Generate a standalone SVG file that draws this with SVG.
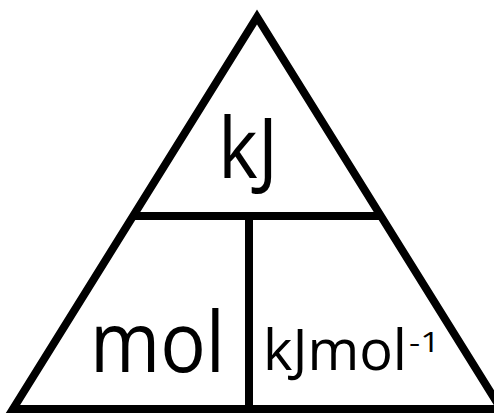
<svg xmlns="http://www.w3.org/2000/svg" width="494" height="414" viewBox="0 0 494 414">
<style>
.ln{stroke:#000;stroke-width:8;fill:none}
.t{font-family:"Open Sans","Noto Sans","Liberation Sans",sans-serif;fill:#000}
</style>
<rect width="494" height="414" fill="#fff"/>
<g id="connectors">
<polygon class="ln" points="257,17 13,409 501,409" stroke-linejoin="miter" stroke-miterlimit="10"/>
<line class="ln" x1="131" y1="216" x2="382" y2="216"/>
<line class="ln" x1="249" y1="216" x2="249" y2="409"/>
</g>
<g id="top"><text class="t" x="218" y="178" font-size="85" textLength="60" lengthAdjust="spacingAndGlyphs">kJ</text></g>
<g id="left"><text class="t" x="90" y="372" font-size="85" textLength="135" lengthAdjust="spacingAndGlyphs">mol</text></g>
<g id="right"><text class="t" x="263" y="370" font-size="56" textLength="144" lengthAdjust="spacingAndGlyphs">kJmol</text><text class="t" x="409" y="352" font-size="28" textLength="31" lengthAdjust="spacingAndGlyphs">-1</text></g>
</svg>
